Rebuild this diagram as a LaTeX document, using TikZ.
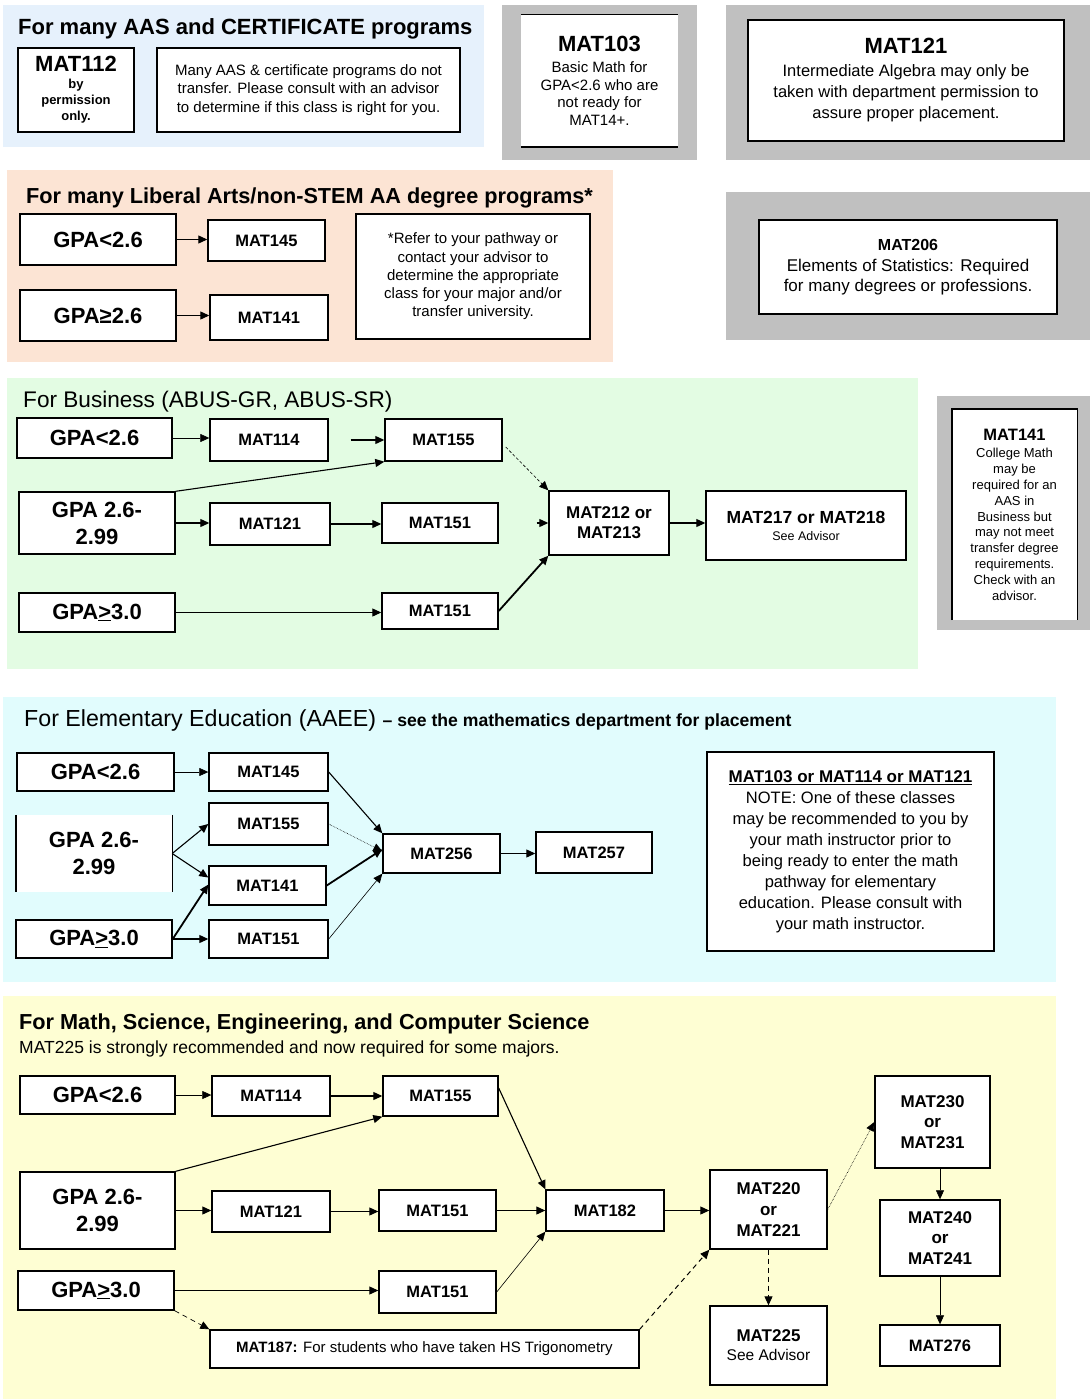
\documentclass[tikz,border=0pt]{standalone}
\usepackage{fontspec}
\setmainfont{Liberation Sans}
\usetikzlibrary{arrows.meta}
\newcommand\fsz[2]{\fontsize{#1}{#2}\selectfont}
\newcommand\bx[6]{\node[#1, minimum width={(#4)-(#2)}, minimum height={(#5)-(#3)}] (#6) at ({((#2)+(#4))/2},{((#3)+(#5))/2})}
\definecolor{bgblue}{HTML}{E6F1FC}
\definecolor{bgpeach}{HTML}{FCE4D4}
\definecolor{bggreen}{HTML}{E3FCE3}
\definecolor{bgcyan}{HTML}{E1FCFD}
\definecolor{bgyellow}{HTML}{FEFED3}
\definecolor{bggray}{HTML}{C0C0C0}
\begin{document}
\begin{tikzpicture}[x=1pt,y=-1pt,
  box/.style={draw, fill=white, line width=1.4pt, inner sep=0pt, align=center},
  plainbox/.style={fill=white, inner sep=0pt, align=center},
  gpa/.style={font=\fsz{22}{27}\bfseries},
  mat/.style={font=\fsz{16.5}{21}\bfseries},
  arr/.style={-{Triangle[length=9pt,width=8pt]}, line width=1.1pt},
  arrthin/.style={arr, line width=0.6pt},
  arrthick/.style={arr, line width=1.8pt},
  arrdash/.style={arr, line width=1pt, dash pattern=on 5pt off 4pt},
  title/.style={anchor=base west, inner sep=0pt}]
\useasboundingbox (0,0) rectangle (1090,1399);
\fill[white] (0,0) rectangle (1090,1399);
% section backgrounds
\fill[bgblue] (3,5) rectangle (484,147);
\fill[bgpeach] (7,170) rectangle (613,362);
\fill[bggreen] (7,378) rectangle (918,669);
\fill[bgcyan] (3,697) rectangle (1056,982);
\fill[bgyellow] (3,996) rectangle (1056,1399);
% gray panels
\fill[bggray] (502,5) rectangle (697,160);
\fill[bggray] (726,5) rectangle (1090,160);
\fill[bggray] (726,192) rectangle (1090,340);
\fill[bggray] (937,396) rectangle (1090,630);

% ---------- Section 1
\node[title, font=\fsz{22}{26}\bfseries] (t1) at (18,35) {For many AAS and CERTIFICATE programs};
\bx{box, font=\fsz{13}{16}\bfseries}{18}{48}{134}{132}{m112} {{\fsz{22}{24}MAT112}\\[1pt]by\\permission\\only.};
\bx{box, font=\fsz{15}{18.5}}{157}{48}{460}{132}{n1} {Many AAS \& certificate programs do not\\transfer. Please consult with an advisor\\to determine if this class is right for you.};

\bx{plainbox, font=\fsz{15}{17.7}}{521}{15}{678}{147}{i103} {{\fsz{22}{24}\bfseries MAT103}\\[3pt]Basic Math for\\GPA<2.6 who are\\not ready for\\MAT14+.};
\draw[line width=1.4pt] (i103.north west) -- (i103.north east) (i103.south west) -- (i103.south east);

\bx{box, font=\fsz{16.5}{21}}{748}{20}{1064}{141}{i121} {{\fsz{22}{24}\bfseries MAT121}\\[2pt]Intermediate Algebra may only be\\taken with department permission to\\assure proper placement.};

% ---------- Section 2
\node[title, font=\fsz{21.7}{26}\bfseries] (t2) at (26,204) {For many Liberal Arts/non-STEM AA degree programs*};
\bx{box, gpa}{20}{214}{176}{265}{l1} {GPA<2.6};
\bx{box, mat}{208}{220}{325}{261}{l145} {MAT145};
\bx{box, gpa}{20}{290}{176}{341}{l2} {GPA≥2.6};
\bx{box, mat}{210}{295}{328}{340}{l141} {MAT141};
\bx{box, font=\fsz{15}{18.3}}{356}{214}{590}{339}{n2} {*Refer to your pathway or\\contact your advisor to\\determine the appropriate\\class for your major and/or\\transfer university.};
\draw[arr] (l1.east) -- (l1.east -| l145.west);
\draw[arr] (l2.east) -- (l2.east -| l141.west);

\bx{box, font=\fsz{17}{19.5}}{759}{220}{1057}{314}{i206} {{\fsz{16}{19}\bfseries MAT206}\\[1.5pt]Elements of Statistics:  Required\\for many degrees or professions.};

% ---------- Section 3
\node[title, font=\fsz{22.6}{26}] (t3) at (23,407) {For Business (ABUS-GR, ABUS-SR)};
\bx{box, gpa}{17}{418}{172}{458}{bg1} {GPA<2.6};
\bx{box, mat}{210}{419}{328}{461}{b114} {MAT114};
\bx{box, mat}{385}{419}{502}{461}{b155} {MAT155};
\bx{box, gpa}{19}{492}{175}{554}{bg2} {GPA 2.6-\\2.99};
\bx{box, mat}{210}{503}{330}{545}{b121} {MAT121};
\bx{box, mat}{382}{503}{498}{543}{b151a} {MAT151};
\bx{box, font=\fsz{17}{20}\bfseries}{549}{491}{669}{555}{b212} {MAT212 or\\MAT213};
\bx{box, gpa}{19}{593}{175}{632}{bg3} {GPA\underline{>}3.0};
\bx{box, mat}{382}{593}{498}{629}{b151b} {MAT151};
\bx{box, font=\fsz{12.5}{17}}{706}{491}{906}{560}{b217} {{\fsz{17.5}{20}\bfseries MAT217 or MAT218}\\See Advisor};

\draw[arrthin] (bg1.east) -- (bg1.east -| b114.west);
\draw[arr, shorten <=22pt] (b114.east) -- (b114.east -| b155.west);
\draw[arr] (bg2.north east) -- (b155.south west);
\draw[arr] (bg2.east) -- (bg2.east -| b121.west);
\draw[arr] (b121.east) -- (b121.east -| b151a.west);
\draw[arr, shorten <=38pt] (b151a.east) -- (b151a.east -| b212.west);
\draw[arrthin, dash pattern=on 3pt off 2pt] ([shift={(3,7)}]b155.east) -- (b212.north west);
\draw[arr] (bg3.east) -- (bg3.east -| b151b.west);
\draw[arrthick] (b151b.east) -- (b212.south west);
\draw[arr] (b212.east) -- (b212.east -| b217.west);

\bx{plainbox, font=\fsz{13}{15.8}}{952}{409}{1077}{620}{i141} {{\fsz{16.5}{19}\bfseries MAT141}\\[2pt]College Math\\may be\\required for an\\AAS in\\Business but\\may not meet\\transfer degree\\requirements.\\Check with an\\advisor.};
\draw[line width=1.4pt] (i141.south west) -- (i141.north west) -- (i141.north east) -- (i141.south east);

% ---------- Section 4
\node[title] (t4) at (24,726) {\fsz{23.2}{26}For Elementary Education (AAEE) \fsz{17.6}{20}\bfseries -- see the mathematics department for placement};
\bx{box, gpa}{17}{753}{174}{791}{eg1} {GPA<2.6};
\bx{plainbox, gpa}{16}{815}{172}{892}{eg2} {GPA 2.6-\\2.99};
\draw[line width=1.4pt] (eg2.north west) -- (eg2.south west) (eg2.north east) -- (eg2.south east);
\bx{box, gpa}{16}{920}{172}{958}{eg3} {GPA\underline{>}3.0};
\bx{box, mat}{209}{753}{328}{791}{e145} {MAT145};
\bx{box, mat}{209}{803}{328}{845}{e155} {MAT155};
\bx{box, mat}{209}{866}{326}{905}{e141} {MAT141};
\bx{box, mat}{209}{920}{328}{958}{e151} {MAT151};
\bx{box, mat}{383}{834}{500}{873}{e256} {MAT256};
\bx{box, mat}{536}{832}{652}{873}{e257} {MAT257};
\bx{box, font=\fsz{16.5}{21}}{707}{752}{994}{951}{en} {{\fsz{17}{21}\bfseries\underline{MAT103 or MAT114 or MAT121}}\\NOTE: One of these classes\\may be recommended to you by\\your math instructor prior to\\being ready to enter the math\\pathway for elementary\\education. Please consult with\\your math instructor.};

\draw[arrthin] (eg1.east) -- (eg1.east -| e145.west);
\draw[arr] (eg2.east) -- (e155.west);
\draw[arr] (eg2.east) -- ([shift={(0,-8)}]e141.west);
\draw[arrthick] (eg3.east) -- ([shift={(0,-1)}]e141.west);
\draw[arr] (eg3.east) -- (eg3.east -| e151.west);
\draw[arr] (e145.east) -- (e256.north west);
\draw[arrthin, densely dotted] (e155.east) -- ([shift={(0,18)}]e256.north west);
\draw[arrthick] (e141.east) -- ([shift={(0,16)}]e256.north west);
\draw[arrthin] (e151.east) -- (e256.south west);
\draw[arr] (e256.east) -- (e256.east -| e257.west);

% ---------- Section 5
\node[title, font=\fsz{21.7}{26}\bfseries] (t5) at (19,1029) {For Math, Science, Engineering, and Computer Science};
\node[title, font=\fsz{17.5}{20}] (t5b) at (19,1053) {MAT225 is strongly recommended and now required for some majors.};
\bx{box, gpa}{20}{1076}{175}{1114}{mg1} {GPA<2.6};
\bx{box, mat}{212}{1076}{330}{1116}{m114} {MAT114};
\bx{box, mat}{383}{1076}{498}{1116}{m155} {MAT155};
\bx{box, gpa}{20}{1172}{175}{1249}{mg2} {GPA 2.6-\\2.99};
\bx{box, mat}{212}{1191}{330}{1232}{m121} {MAT121};
\bx{box, mat}{379}{1190}{496}{1231}{m151a} {MAT151};
\bx{box, gpa}{18}{1271}{174}{1310}{mg3} {GPA\underline{>}3.0};
\bx{box, mat}{379}{1271}{496}{1313}{m151b} {MAT151};
\bx{box, mat}{546}{1190}{664}{1231}{m182} {MAT182};
\bx{box, font=\fsz{17}{21}\bfseries}{710}{1170}{827}{1249}{m220} {MAT220\\or\\MAT221};
\bx{box, font=\fsz{15.5}{19}}{710}{1306}{827}{1385}{m225} {{\fsz{17}{20}\bfseries MAT225}\\See Advisor};
\bx{box, font=\fsz{17}{20.5}\bfseries}{875}{1076}{990}{1168}{m230} {MAT230\\or\\MAT231};
\bx{box, font=\fsz{17}{20.5}\bfseries}{880}{1200}{1000}{1276}{m240} {MAT240\\or\\MAT241};
\bx{box, mat}{880}{1325}{1000}{1366}{m276} {MAT276};
\bx{box, font=\fsz{15}{18}}{210}{1330}{639}{1368}{m187} {\textbf{MAT187:}  For students who have taken HS Trigonometry};

\draw[arrthin] (mg1.east) -- (mg1.east -| m114.west);
\draw[arr] (m114.east) -- (m114.east -| m155.west);
\draw[arr] (mg2.north east) -- (m155.south west);
\draw[arr] (mg2.east) -- (mg2.east -| m121.west);
\draw[arr] (m121.east) -- (m121.east -| m151a.west);
\draw[arr] (m151a.east) -- (m151a.east -| m182.west);
\draw[arr] ([shift={(0,-8)}]m155.east) -- (m182.north west);
\draw[arrthin] (m151b.east) -- (m182.south west);
\draw[arr] (mg3.east) -- (mg3.east -| m151b.west);
\draw[arrdash, line width=0.7pt] (mg3.south east) -- (m187.north west);
\draw[arr] (m182.east) -- (m182.east -| m220.west);
\draw[arrdash] (m187.north east) -- (m220.south west);
\draw[arrthin, densely dotted] (m220.east) -- (m230.west);
\draw[arrdash] (m220.south) -- (m225.north);
\draw[arrthin] (m240.north |- m230.south) -- (m240.north);
\draw[arrthin] (m240.south) -- (m276.north);
\end{tikzpicture}
\end{document}
